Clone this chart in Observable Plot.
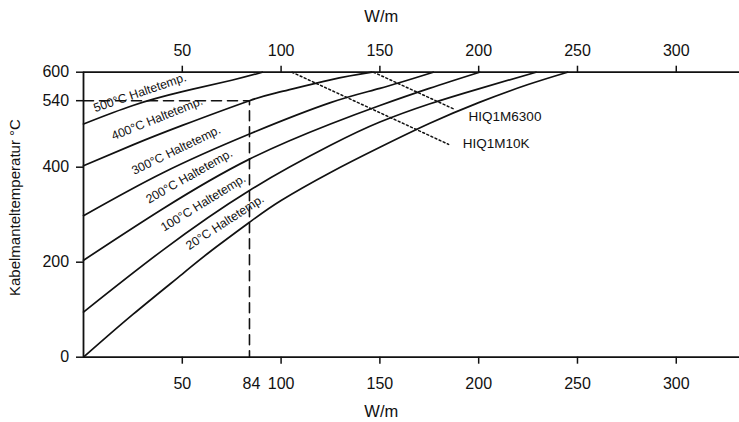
<!DOCTYPE html>
<html>
<head>
<meta charset="utf-8">
<script src="https://cdn.jsdelivr.net/npm/d3@7"></script>
<script src="https://cdn.jsdelivr.net/npm/@observablehq/plot@0.6"></script>
<style>
  html, body { margin: 0; padding: 0; background: #fff; }
  svg { display: block; }
</style>
</head>
<body>
<div id="chart"></div>
<script>
// ---- data ----
const holdTemps = ["500°C Haltetemp.", "400°C Haltetemp.", "300°C Haltetemp.", "200°C Haltetemp.", "100°C Haltetemp.", "20°C Haltetemp."];

const power500 = [0, 25, 50, 75, 90.5];
const temp500  = [491, 530, 559, 583, 600];
const power400 = [0, 25, 50, 84, 100, 125, 146];
const temp400  = [403, 447, 488, 540, 559, 584, 600];
const power300 = [0, 40, 84, 125, 150, 177];
const temp300  = [298, 388, 470, 536, 566, 600];
const power200 = [0, 40, 84, 125, 150, 175, 200.5];
const temp200  = [204, 312, 417, 491, 530, 566, 600];
const power100 = [0, 40, 84, 125, 150, 175, 200, 229];
const temp100  = [95, 225, 351, 446, 495, 533, 565, 600];
const power20  = [0, 25, 50, 64, 84, 100, 125, 150, 175, 200, 225, 245];
const temp20   = [0, 90, 175, 222, 284, 330, 389, 442, 492, 536, 574, 600];

const cableNames = ["HIQ1M6300", "HIQ1M10K"];
const cablePower6300 = [146.8, 188.2];
const cableTemp6300  = [600, 521];
const cablePower10K  = [105.5, 184.8];
const cableTemp10K   = [600, 448];

const refPower = [0, 84, 84];
const refTemp  = [540, 540, 0];

const xTicks = [50, 100, 150, 200, 250, 300];
const xTickExtra = [84];
const yTicks = [0, 200, 400, 540, 600];

// annotation anchors (data units)
const labelPower = [28.6, 37.3, 46.9, 53.5, 60.6, 71.6];
const labelTemp  = [557, 502.5, 435.8, 381, 324.8, 284];
const labelAngle = [-19, -22, -26, -29.6, -31.8, -33.1];
const cableLabelPower = [194.9, 191.9];
const cableLabelTemp  = [506.7, 450.5];

// ---- tables ----
const powers = [power500, power400, power300, power200, power100, power20];
const temps  = [temp500, temp400, temp300, temp200, temp100, temp20];
const curves = holdTemps.flatMap((name, k) => powers[k].map((w, i) => ({name, w, t: temps[k][i]})));
const cables = [
  ...cablePower6300.map((w, i) => ({name: cableNames[0], w, t: cableTemp6300[i]})),
  ...cablePower10K.map((w, i) => ({name: cableNames[1], w, t: cableTemp10K[i]}))
];
const ref = refPower.map((w, i) => ({w, t: refTemp[i]}));
const curveLabels = holdTemps.map((name, i) => ({name, w: labelPower[i], t: labelTemp[i], a: labelAngle[i]}));
const cableLabels = cableNames.map((name, i) => ({name, w: cableLabelPower[i], t: cableLabelTemp[i]}));

const font = "'Liberation Sans', Arial, Helvetica, sans-serif";

const chart = Plot.plot({
  width: 739,
  height: 422,
  marginLeft: 83,
  marginRight: 0,
  marginTop: 71.7,
  marginBottom: 65.3,
  style: {fontFamily: font, fontSize: "16px", color: "#111", background: "#fff"},
  x: {domain: [0, 332], axis: null},
  y: {domain: [0, 600], axis: null},
  marks: [
    Plot.line(ref, {x: "w", y: "t", stroke: "#111", strokeWidth: 1.6, strokeDasharray: "10,6"}),
    Plot.line(cables, {x: "w", y: "t", z: "name", stroke: "#111", strokeWidth: 1.5, strokeDasharray: "2,2.5"}),
    Plot.line(curves, {x: "w", y: "t", z: "name", stroke: "#111", strokeWidth: 1.7, curve: "natural"}),
    Plot.ruleY([0, 600], {stroke: "#111", strokeWidth: 1.8}),
    Plot.ruleX([0], {stroke: "#111", strokeWidth: 1.8}),
    Plot.axisX(xTicks, {anchor: "bottom", tickSize: 7, tickPadding: 13.5, strokeWidth: 1.5, label: null, fontSize: 16}),
    Plot.axisX(xTickExtra, {anchor: "bottom", tickSize: 7, tickPadding: 13.5, stroke: "none", label: null, fontSize: 16, dx: 2}),
    Plot.axisX(xTicks, {anchor: "top", tickSize: 7, tickPadding: 9.5, strokeWidth: 1.5, label: null, fontSize: 16}),
    Plot.axisY(yTicks, {anchor: "left", tickSize: 7, tickPadding: 7.4, strokeWidth: 1.5, label: null, fontSize: 16}),
    Plot.text(curveLabels, {x: "w", y: "t", text: "name", rotate: "a", fontSize: 12.3, fill: "#111"}),
    Plot.text(cableLabels, {x: "w", y: "t", text: "name", textAnchor: "start", fontSize: 13.5, fill: "#111"}),
    Plot.text([{w: 150.7, s: "W/m"}], {x: "w", text: "s", frameAnchor: "top", lineAnchor: "middle", dy: -55, fontSize: 16.5, fill: "#111"}),
    Plot.text([{w: 150.7, s: "W/m"}], {x: "w", text: "s", frameAnchor: "bottom", lineAnchor: "middle", dy: 54.3, fontSize: 16.5, fill: "#111"}),
    Plot.text([{t: 315, s: "Kabelmanteltemperatur °C"}], {y: "t", text: "s", frameAnchor: "left", textAnchor: "middle", lineAnchor: "middle", dx: -68, rotate: -90, fontSize: 15, fill: "#111"})
  ]
});
document.getElementById("chart").appendChild(chart);
</script>
</body>
</html>
